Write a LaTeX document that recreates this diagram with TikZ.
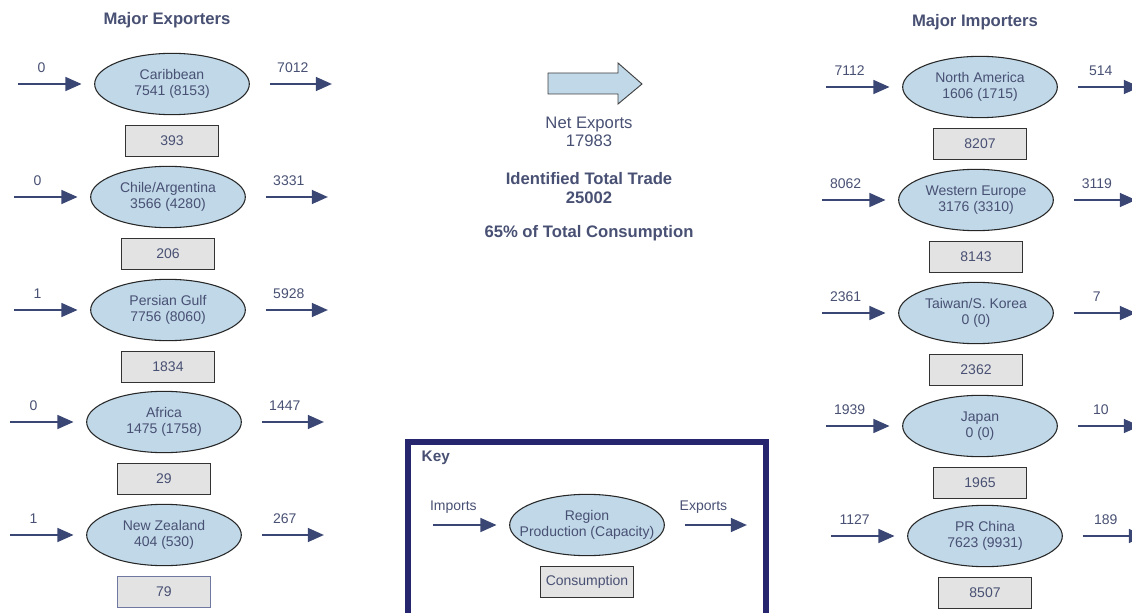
\documentclass[tikz,border=0pt]{standalone}
\usepackage{fontspec}
\setmainfont{Liberation Sans}
\usetikzlibrary{shapes.geometric,positioning,arrows.meta}

\definecolor{txt}{RGB}{72,80,115}
\definecolor{flowc}{RGB}{58,70,115}
\definecolor{regblue}{RGB}{192,216,232}
\definecolor{consgray}{RGB}{227,227,227}
\definecolor{keyblue}{RGB}{38,38,110}
\definecolor{edgeblue}{RGB}{110,120,160}

\begin{document}
\begin{tikzpicture}[x=0.75pt, y=-0.75pt, text=txt, font=\fontsize{10.5}{12}\selectfont,
    region/.style={ellipse, draw=black!85, line width=0.8pt, fill=regblue, minimum width=116pt, minimum height=46pt, inner sep=0pt, align=center},
    cons/.style={draw=black!80, line width=0.8pt, fill=consgray, minimum width=70pt, minimum height=23.5pt, inner sep=0pt},
    flow/.style={draw=flowc, line width=1pt, -{Triangle[length=12pt,width=10.5pt]}},
    qty/.style={above=5pt, pos=0.37},
    head/.style={font=\fontsize{12.5}{14.25}\selectfont\bfseries, align=center}]
    \useasboundingbox (0,0) rectangle (1132,613);

    %titoli
    \node[head] (hexp) at (167,20) {Major Exporters};
    \node[head] (himp) at (975,22) {Major Importers};

    %esportatori
    \node[region] (carib) at (172,84) {Caribbean\\7541 (8153)};
    \node[cons, below=7pt of carib] (caribC) {393};
    \draw[flow] ([xshift=-57pt]carib.west) -- node[qty]{0} ([xshift=-9.5pt]carib.west);
    \draw[flow] ([xshift=15pt]carib.east) -- node[qty]{7012} ([xshift=61.5pt]carib.east);

    \node[region] (chile) at (168,197) {Chile/Argentina\\3566 (4280)};
    \node[cons, below=7pt of chile] (chileC) {206};
    \draw[flow] ([xshift=-57pt]chile.west) -- node[qty]{0} ([xshift=-9.5pt]chile.west);
    \draw[flow] ([xshift=15pt]chile.east) -- node[qty]{3331} ([xshift=61.5pt]chile.east);

    \node[region] (gulf) at (168,310) {Persian Gulf\\7756 (8060)};
    \node[cons, below=7pt of gulf] (gulfC) {1834};
    \draw[flow] ([xshift=-57pt]gulf.west) -- node[qty]{1} ([xshift=-9.5pt]gulf.west);
    \draw[flow] ([xshift=15pt]gulf.east) -- node[qty]{5928} ([xshift=61.5pt]gulf.east);

    \node[region] (africa) at (164,422) {Africa\\1475 (1758)};
    \node[cons, below=7pt of africa] (africaC) {29};
    \draw[flow] ([xshift=-57pt]africa.west) -- node[qty]{0} ([xshift=-9.5pt]africa.west);
    \draw[flow] ([xshift=15pt]africa.east) -- node[qty]{1447} ([xshift=61.5pt]africa.east);

    \node[region] (nz) at (164,535) {New Zealand\\404 (530)};
    \node[cons, draw=edgeblue, below=7pt of nz] (nzC) {79};
    \draw[flow] ([xshift=-57pt]nz.west) -- node[qty]{1} ([xshift=-9.5pt]nz.west);
    \draw[flow] ([xshift=15pt]nz.east) -- node[qty]{267} ([xshift=61.5pt]nz.east);

    %importatori
    \node[region] (nam) at (980,87) {North America\\1606 (1715)};
    \node[cons, below=7pt of nam] (namC) {8207};
    \draw[flow] ([xshift=-57pt]nam.west) -- node[qty]{7112} ([xshift=-9.5pt]nam.west);
    \draw[flow] ([xshift=15pt]nam.east) -- node[qty]{514} ([xshift=61.5pt]nam.east);

    \node[region] (weu) at (976,200) {Western Europe\\3176 (3310)};
    \node[cons, below=7pt of weu] (weuC) {8143};
    \draw[flow] ([xshift=-57pt]weu.west) -- node[qty]{8062} ([xshift=-9.5pt]weu.west);
    \draw[flow] ([xshift=15pt]weu.east) -- node[qty]{3119} ([xshift=61.5pt]weu.east);

    \node[region] (tsk) at (976,313) {Taiwan/S. Korea\\0 (0)};
    \node[cons, below=7pt of tsk] (tskC) {2362};
    \draw[flow] ([xshift=-57pt]tsk.west) -- node[qty]{2361} ([xshift=-9.5pt]tsk.west);
    \draw[flow] ([xshift=15pt]tsk.east) -- node[qty]{7} ([xshift=61.5pt]tsk.east);

    \node[region] (jap) at (980,426) {Japan\\0 (0)};
    \node[cons, below=7pt of jap] (japC) {1965};
    \draw[flow] ([xshift=-57pt]jap.west) -- node[qty]{1939} ([xshift=-9.5pt]jap.west);
    \draw[flow] ([xshift=15pt]jap.east) -- node[qty]{10} ([xshift=61.5pt]jap.east);

    \node[region] (prc) at (985,536) {PR China\\7623 (9931)};
    \node[cons, below=7pt of prc] (prcC) {8507};
    \draw[flow] ([xshift=-57pt]prc.west) -- node[qty]{1127} ([xshift=-9.5pt]prc.west);
    \draw[flow] ([xshift=15pt]prc.east) -- node[qty]{189} ([xshift=61.5pt]prc.east);

    %freccia centrale
    \draw[draw=black!75, line width=0.7pt, fill=regblue] (548,73) -- (618,73) -- (618,63) -- (642,84) -- (618,104) -- (618,94) -- (548,94) -- cycle;
    \node[align=center, font=\fontsize{12.5}{13.5}\selectfont] (net) at (589,132) {Net Exports\\17983};
    \node[head] (tot) at (589,188) {Identified Total Trade\\25002};
    \node[head] (pct) at (589,233) {65\% of Total Consumption};

    %legenda
    \draw[draw=keyblue, line width=4pt] (408,613) -- (408,442) -- (766,442) -- (766,613);
    \node[head, anchor=west, font=\fontsize{11.5}{13}\selectfont\bfseries] (key) at (417,458) {Key};
    \node[region, inner xsep=-10pt] (reg) at (587,525) {Region\\Production (Capacity)};
    \node[cons, below=7pt of reg] (regC) {Consumption};
    \draw[flow] ([xshift=-57pt]reg.west) -- node[qty, pos=0.32]{Imports} ([xshift=-9.5pt]reg.west);
    \draw[flow] ([xshift=15pt]reg.east) -- node[qty, pos=0.3]{Exports} ([xshift=61.5pt]reg.east);
\end{tikzpicture}
\end{document}
